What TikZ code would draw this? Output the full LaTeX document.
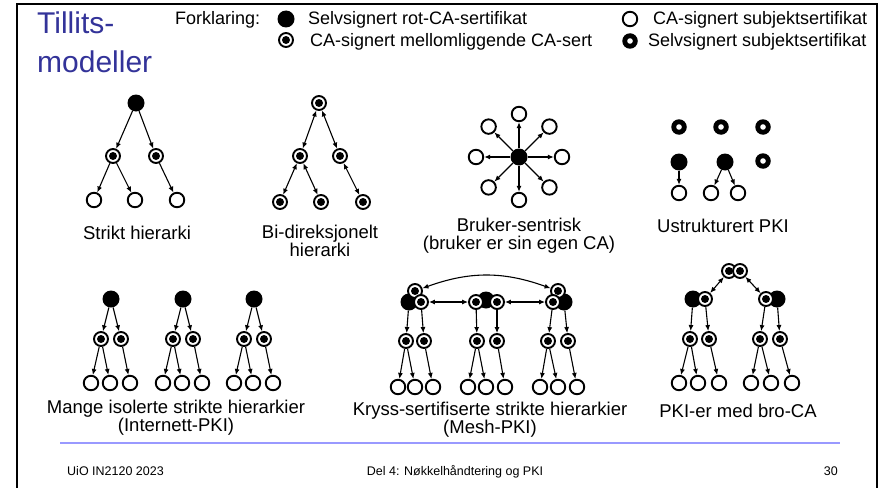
\documentclass[tikz,border=0pt]{standalone}
\usepackage{fontspec}
\setmainfont{Liberation Sans}
\usetikzlibrary{arrows.meta,positioning}

\definecolor{titleblue}{RGB}{51,51,153}
\definecolor{footline}{RGB}{153,153,255}

\begin{document}
\begin{tikzpicture}[x=1pt, y=-1pt, >={Latex[length=6pt,width=5pt]},
    every node/.style={inner sep=0pt},
    rootca/.style={circle, fill=black, minimum size=17pt},
    midca/.style={circle, draw, fill=white, line width=1.9pt, minimum size=14pt,
        path picture={\fill[black] (path picture bounding box.center) circle (4pt);}},
    subj/.style={circle, draw, fill=white, line width=1.9pt, minimum size=14.5pt},
    selfsubj/.style={circle, fill=black, minimum size=15.5pt,
        path picture={\fill[white] (path picture bounding box.center) circle (2.8pt);}},
    lbl/.style={font=\fontsize{18.5}{18}\selectfont, align=center, anchor=north},
    conn/.style={->, line width=1.1pt},
    bidir/.style={<->, line width=1.1pt}]
    \useasboundingbox (0,0) rectangle (890,487);
    \draw[line width=2pt] (17,495) -- (17,4) -- (877,4) -- (877,495);

    \node (title1) [anchor=base west, text=titleblue, font=\fontsize{30}{36}\selectfont] at (37,34) {Tillits-};
    \node (title2) [anchor=base west, text=titleblue, font=\fontsize{30}{36}\selectfont] at (37,72) {modeller};

    \node (forkl) [anchor=base west, font=\fontsize{18}{20}\selectfont] at (175,25) {Forklaring:};
    \node (lgroot) [rootca] at (286,19) {};
    \node (lgroott) [anchor=base west, font=\fontsize{18}{20}\selectfont] at (308,25) {Selvsignert rot-CA-sertifikat};
    \node (lgmid) [midca] at (286,40) {};
    \node (lgmidt) [anchor=base west, font=\fontsize{18}{20}\selectfont] at (310,46) {CA-signert mellomliggende CA-sert};
    \node (lgsubj) [subj] at (630,19) {};
    \node (lgsubjt) [anchor=base west, font=\fontsize{18}{20}\selectfont] at (653,25) {CA-signert subjektsertifikat};
    \node (lgself) [selfsubj] at (630,41) {};
    \node (lgselft) [anchor=base west, font=\fontsize{18}{20}\selectfont] at (648,46) {Selvsignert subjektsertifikat};

    \node (s0) [rootca] at (136,103) {};
    \node (s1) [midca] at (113,156) {};
    \node (s2) [midca] at (156,156) {};
    \node (s3) [subj] at (94,200) {};
    \node (s4) [subj] at (135,200) {};
    \node (s5) [subj] at (177,200) {};
    \draw[conn] (s0) -- (s1);
    \draw[conn] (s0) -- (s2);
    \draw[conn] (s1) -- (s3);
    \draw[conn] (s1) -- (s4);
    \draw[conn] (s2) -- (s5);
    \node (slbl) [lbl] at (137,226) {Strikt hierarki};

    \node (d0) [midca] at (319,103) {};
    \node (d1) [midca] at (300,156) {};
    \node (d2) [midca] at (340,156) {};
    \node (d3) [midca] at (280,202) {};
    \node (d4) [midca] at (321,202) {};
    \node (d5) [midca] at (363,202) {};
    \draw[bidir] (d0) -- (d1);
    \draw[bidir] (d0) -- (d2);
    \draw[bidir] (d1) -- (d3);
    \draw[bidir] (d1) -- (d4);
    \draw[bidir] (d2) -- (d5);
    \node (dlbl) [lbl] at (320,225) {Bi-direksjonelt\\hierarki};

    \node (uc) [rootca] at (519,157) {};
    \foreach \a in {0,45,...,315} {
        \node (u\a) [subj] at ([shift={(\a:43)}]uc) {};
        \draw[conn] (uc) -- (u\a);
    }
    \node (ulbl) [lbl] at (519,218) {Bruker-sentrisk\\(bruker er sin egen CA)};

    \node (p1) [selfsubj] at (679,127) {};
    \node (p2) [selfsubj] at (721,127) {};
    \node (p3) [selfsubj] at (763,127) {};
    \node (p4) [selfsubj] at (763,161) {};
    \node (p5) [rootca] at (679,162) {};
    \node (p6) [rootca] at (725,162) {};
    \node (p7) [subj] at (679,193) {};
    \node (p8) [subj] at (711,193) {};
    \node (p9) [subj] at (738,193) {};
    \draw[conn] (p5) -- (p7);
    \draw[conn] (p6) -- (p8);
    \draw[conn] (p6) -- (p9);
    \node (plbl) [lbl] at (723,219) {Ustrukturert PKI};

    \foreach \cx/\t in {111/a,183/b,254/c} {
        \node (m\t0) [rootca] at (\cx,299) {};
        \node (m\t1) [midca] at (\cx-10,339) {};
        \node (m\t2) [midca] at (\cx+10,339) {};
        \node (m\t3) [subj] at (\cx-20,383) {};
        \node (m\t4) [subj] at (\cx-1,383) {};
        \node (m\t5) [subj] at (\cx+19,383) {};
        \draw[conn] (m\t0) -- (m\t1);
        \draw[conn] (m\t0) -- (m\t2);
        \draw[conn] (m\t1) -- (m\t3);
        \draw[conn] (m\t1) -- (m\t4);
        \draw[conn] (m\t2) -- (m\t5);
    }
    \node (mlbl) [lbl] at (176,400) {Mange isolerte strikte hierarkier\\(Internett-PKI)};

    \node (k1f) [rootca] at (409,302) {};
    \node (k1t) [midca] at (415,291) {};
    \node (k1b) [midca] at (421,302) {};
    \node (k2f) [rootca] at (486,300) {};
    \node (k2l) [midca] at (476,302) {};
    \node (k2r) [midca] at (497,302) {};
    \node (k3f) [rootca] at (564,302) {};
    \node (k3t) [midca] at (558,291) {};
    \node (k3b) [midca] at (553,302) {};
    \node (k11) [midca] at (406,341) {};
    \node (k12) [midca] at (424,341) {};
    \node (k21) [midca] at (477,341) {};
    \node (k22) [midca] at (497,341) {};
    \node (k31) [midca] at (548,341) {};
    \node (k32) [midca] at (568,341) {};
    \node (k13) [subj] at (398,387) {};
    \node (k14) [subj] at (415,387) {};
    \node (k15) [subj] at (433,387) {};
    \node (k23) [subj] at (468,387) {};
    \node (k24) [subj] at (486,387) {};
    \node (k25) [subj] at (505,387) {};
    \node (k33) [subj] at (540,387) {};
    \node (k34) [subj] at (558,387) {};
    \node (k35) [subj] at (577,387) {};
    \draw[bidir] (k1b) -- (k2l);
    \draw[bidir] (k2r) -- (k3b);
    \draw[bidir] (k1t) to[bend left=20] (k3t);
    \draw[conn] (k1f) -- (k11);
    \draw[conn] (k1b) -- (k12);
    \draw[conn] (k2l) -- (k21);
    \draw[conn] (k2r) -- (k22);
    \draw[conn] (k3b) -- (k31);
    \draw[conn] (k3f) -- (k32);
    \foreach \t in {1,2,3} {
        \draw[conn] (k\t1) -- (k\t3);
        \draw[conn] (k\t1) -- (k\t4);
        \draw[conn] (k\t2) -- (k\t5);
    }
    \node (klbl) [lbl] at (490,402) {Kryss-sertifiserte strikte hierarkier\\(Mesh-PKI)};

    \node (b0l) [midca] at (729,271) {};
    \node (b0r) [midca] at (740,271) {};
    \node (b1f) [rootca] at (693,299) {};
    \node (b1m) [midca] at (705,299) {};
    \node (b2f) [rootca] at (777,299) {};
    \node (b2m) [midca] at (766,299) {};
    \node (bm1) [midca] at (690,339) {};
    \node (bm2) [midca] at (709,339) {};
    \node (bm3) [midca] at (760,339) {};
    \node (bm4) [midca] at (780,339) {};
    \node (bb1) [subj] at (679,383) {};
    \node (bb2) [subj] at (698,383) {};
    \node (bb3) [subj] at (719,383) {};
    \node (bb4) [subj] at (751,383) {};
    \node (bb5) [subj] at (771,383) {};
    \node (bb6) [subj] at (792,383) {};
    \draw[bidir] (b0l) -- (b1m);
    \draw[bidir] (b0r) -- (b2m);
    \draw[conn] (b1f) -- (bm1);
    \draw[conn] (b1m) -- (bm2);
    \draw[conn] (b2m) -- (bm3);
    \draw[conn] (b2f) -- (bm4);
    \draw[conn] (bm1) -- (bb1);
    \draw[conn] (bm1) -- (bb2);
    \draw[conn] (bm2) -- (bb3);
    \draw[conn] (bm3) -- (bb4);
    \draw[conn] (bm3) -- (bb5);
    \draw[conn] (bm4) -- (bb6);
    \node (blbl) [lbl] at (738,404) {PKI-er med bro-CA};

    \draw[footline, line width=2pt] (60,443) -- (840,443);
    \node (foot1) [anchor=base west, font=\fontsize{12.5}{14}\selectfont] at (67,475) {UiO IN2120 2023};
    \node (foot2) [anchor=base, font=\fontsize{12.5}{14}\selectfont] at (455,475) {Del 4: Nøkkelhåndtering og PKI};
    \node (foot3) [anchor=base east, font=\fontsize{12.5}{14}\selectfont] at (838,475) {30};
\end{tikzpicture}
\end{document}
